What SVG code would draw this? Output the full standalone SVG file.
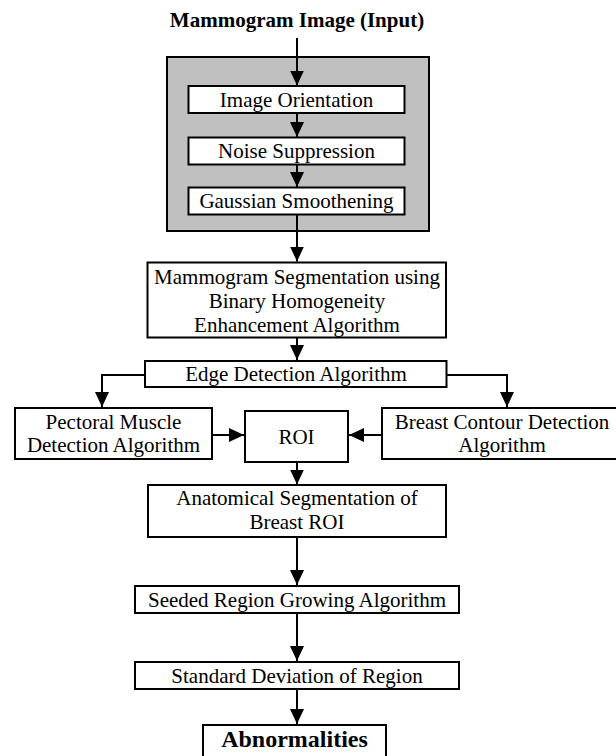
<svg xmlns="http://www.w3.org/2000/svg" width="616" height="756" viewBox="0 0 616 756">
<style>
.box{fill:#fff;stroke:#000;stroke-width:2}
.t{font-family:"Liberation Serif","Times New Roman",serif;font-size:21px;text-anchor:middle;fill:#000}
.b{font-weight:bold}
.c{fill:none;stroke:#000;stroke-width:2}
</style>
<defs>
<marker id="ah" markerUnits="userSpaceOnUse" markerWidth="16" markerHeight="16" refX="15" refY="7" orient="auto">
<path d="M0,0 L15,7 L0,14 z" fill="#000"/>
</marker>
</defs>
<rect width="616" height="756" fill="#fff"/>
<g id="input"><text class="t b" x="297" y="27">Mammogram Image (Input)</text></g>
<g id="preprocess"><rect x="167" y="57" width="262" height="174" fill="#c0c0c0" stroke="#000" stroke-width="2"/></g>
<g id="connectors">
<line class="c" x1="297" y1="38" x2="297" y2="85.5" marker-end="url(#ah)"/>
<line class="c" x1="297" y1="113" x2="297" y2="137" marker-end="url(#ah)"/>
<line class="c" x1="297" y1="164.5" x2="297" y2="187" marker-end="url(#ah)"/>
<line class="c" x1="297" y1="214.5" x2="297" y2="261.5" marker-end="url(#ah)"/>
<line class="c" x1="297" y1="337.5" x2="297" y2="360" marker-end="url(#ah)"/>
<polyline class="c" points="145,375 102,375 102,407" marker-end="url(#ah)"/>
<polyline class="c" points="446.5,375 507,375 507,407" marker-end="url(#ah)"/>
<line class="c" x1="212" y1="435" x2="244" y2="435" marker-end="url(#ah)"/>
<line class="c" x1="382" y1="435" x2="349" y2="435" marker-end="url(#ah)"/>
<line class="c" x1="297" y1="462" x2="297" y2="484.5" marker-end="url(#ah)"/>
<line class="c" x1="297" y1="537" x2="297" y2="585" marker-end="url(#ah)"/>
<line class="c" x1="297" y1="613" x2="297" y2="661" marker-end="url(#ah)"/>
<line class="c" x1="297" y1="689" x2="297" y2="724" marker-end="url(#ah)"/>
</g>
<g id="orientation"><rect class="box" x="188.5" y="86" width="216" height="27"/><text class="t" x="296.5" y="106.5">Image Orientation</text></g>
<g id="noise"><rect class="box" x="188.5" y="137.5" width="216" height="27"/><text class="t" x="296.5" y="157.5">Noise Suppression</text></g>
<g id="gaussian"><rect class="box" x="188.5" y="187.5" width="216" height="27"/><text class="t" x="296.5" y="207.5">Gaussian Smoothening</text></g>
<g id="segmentation"><rect class="box" x="147.5" y="262.5" width="298.5" height="75"/>
<text class="t" x="297" y="283.5">Mammogram Segmentation using</text>
<text class="t" x="297" y="307.5">Binary Homogeneity</text>
<text class="t" x="297" y="331.5">Enhancement Algorithm</text></g>
<g id="edge"><rect class="box" x="145" y="361" width="301.5" height="26"/><text class="t" x="296" y="380.5">Edge Detection Algorithm</text></g>
<g id="pectoral"><rect class="box" x="15" y="408" width="197" height="51"/>
<text class="t" x="113.5" y="428.5">Pectoral Muscle</text>
<text class="t" x="113.5" y="452">Detection Algorithm</text></g>
<g id="roi"><rect class="box" x="245" y="411" width="103" height="51"/><text class="t" x="296.5" y="443.5">ROI</text></g>
<g id="contour"><rect class="box" x="382" y="408" width="240" height="51"/>
<text class="t" x="502" y="428.5">Breast Contour Detection</text>
<text class="t" x="502" y="452">Algorithm</text></g>
<g id="anatomical"><rect class="box" x="148" y="485" width="298" height="52"/>
<text class="t" x="297" y="505">Anatomical Segmentation of</text>
<text class="t" x="297" y="528.5">Breast ROI</text></g>
<g id="seeded"><rect class="box" x="135" y="586" width="324" height="27"/><text class="t" x="297" y="606.5">Seeded Region Growing Algorithm</text></g>
<g id="stddev"><rect class="box" x="135" y="662" width="324" height="27"/><text class="t" x="297" y="682.5">Standard Deviation of Region</text></g>
<g id="abnormalities"><rect class="box" x="203" y="725" width="183" height="40"/><text class="t b" x="294.5" y="747" style="font-size:24px">Abnormalities</text></g>
</svg>
